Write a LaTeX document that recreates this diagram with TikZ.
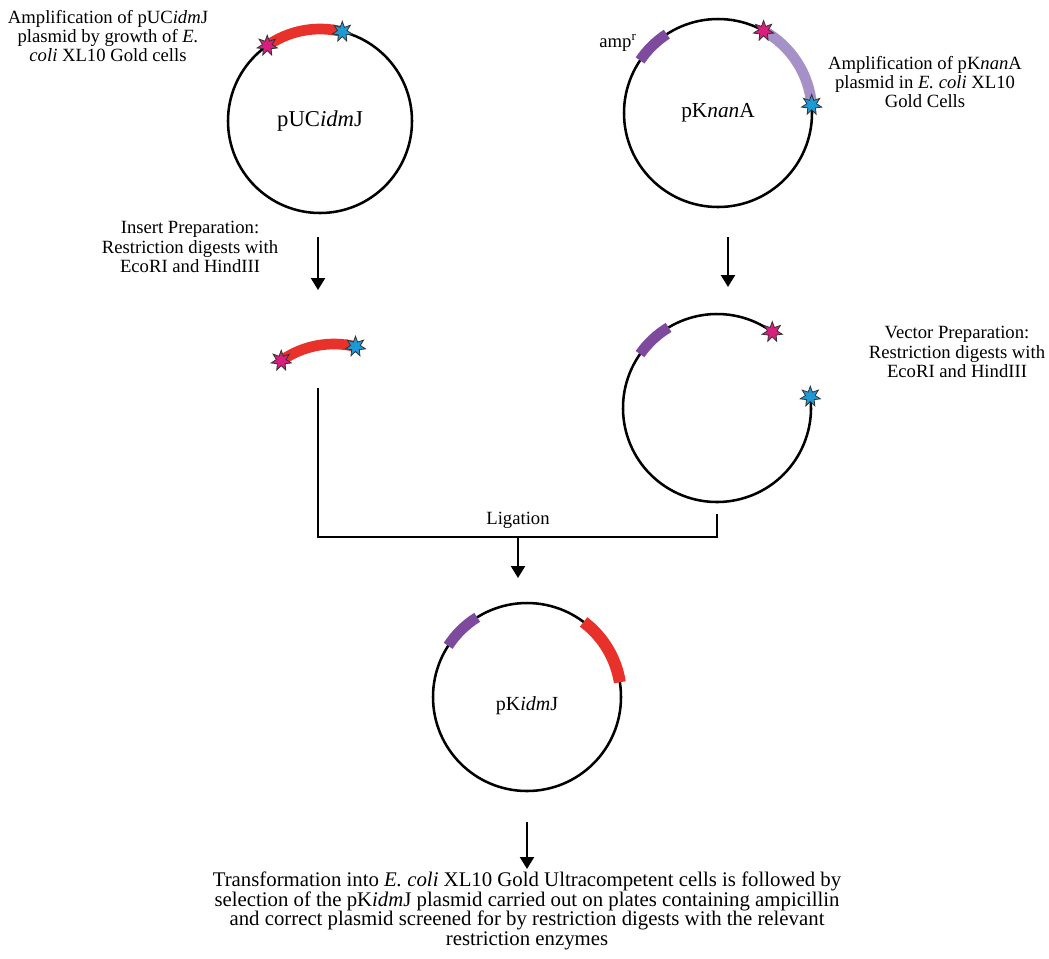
\documentclass[tikz,border=0pt]{standalone}
\usepackage{fontspec}
\setmainfont{Liberation Serif}
\usetikzlibrary{shapes.geometric,arrows.meta,calc}
\definecolor{insred}{HTML}{E8312B}
\definecolor{ampvio}{HTML}{7E4A9E}
\definecolor{nanvio}{HTML}{A590C8}
\definecolor{starpink}{HTML}{D81F7E}
\definecolor{starblue}{HTML}{1C9AD6}
\tikzset{
  plasmid/.style={circle, draw, line width=1.9pt, inner sep=0pt, outer sep=0pt},
  hollow/.style={circle, inner sep=0pt, outer sep=0pt},
  txt/.style={align=center, font=\fontsize{14}{14.5}\selectfont, inner sep=0pt},
  bigtxt/.style={align=center, font=\fontsize{15.6}{14.7}\selectfont, inner sep=0pt},
  flow/.style={line width=1.7pt, -{Triangle[width=10.5pt,length=9pt]}},
  bracket/.style={line width=1.7pt},
  band/.style={line width=8pt},
  site/.style={star, star points=7, star point ratio=2.1, minimum size=15.5pt, inner sep=0pt, draw=black!80, line width=0.6pt},
  pinksite/.style={site, fill=starpink},
  bluesite/.style={site, fill=starblue},
}
\begin{document}
\begin{tikzpicture}[x=0.75pt,y=0.75pt]
\useasboundingbox (0,0) rectangle (1049,-958);

% plasmid circles
\node[plasmid, minimum size=138pt, font=\fontsize{17}{20}\selectfont] (p1) at (320,-121) {pUC\textit{idm}J};
\node[plasmid, minimum size=141pt, font=\fontsize{16}{19}\selectfont] (p2) at (718,-113) {pK\textit{nan}A};
\node[hollow, minimum size=141pt] (p3) at (717,-408) {};
\node[plasmid, minimum size=141pt] (p4) at (527,-697) {};
\node[font=\fontsize{15}{18}\selectfont] (p4lab) at (527,-706) {pK\textit{idm}J};

% open vector
\draw[line width=1.9pt] (p3.54) arc[start angle=54, end angle=367, radius=70.5pt];

% bands
\draw[band, insred] (p1.125) arc[start angle=125, end angle=76.5, radius=69pt];
\draw[band, ampvio] (p2.146) arc[start angle=146, end angle=123, radius=70.5pt];
\draw[band, nanvio] (p2.61) arc[start angle=61, end angle=5, radius=70.5pt];
\draw[band, ampvio] (p3.145) arc[start angle=145, end angle=121, radius=70.5pt];
\draw[band, ampvio] (p4.147) arc[start angle=147, end angle=122, radius=70.5pt];
\draw[band, insred, line width=9pt] (p4.53) arc[start angle=53, end angle=9, radius=70.5pt];

% insert fragment
\coordinate (ic) at (334,-436);
\coordinate (ie) at ($(ic)+(125:92)$);
\draw[band, insred] (ie) arc[start angle=125, end angle=76.5, radius=69pt];

% restriction sites
\node[pinksite] (s1e) at (p1.125) {};
\node[bluesite] (s1h) at (p1.76.5) {};
\node[pinksite] (s2e) at (p2.61) {};
\node[bluesite] (s2h) at (p2.5) {};
\node[pinksite] (s3e) at (p3.54) {};
\node[bluesite] (s3h) at (p3.7) {};
\node[pinksite] (sie) at (ie) {};
\node[bluesite] (sih) at ($(ic)+(76.5:92)$) {};

% labels
\node[txt] (t1) at (108,-36) {Amplification of pUC\textit{idm}J\\plasmid by growth of \textit{E.}\\\textit{coli} XL10 Gold cells};
\node[txt] (t2) at (925,-82) {Amplification of pK\textit{nan}A\\plasmid in \textit{E. coli} XL10\\Gold Cells};
\node[txt] (amp) at (618,-43) {amp\textsuperscript{r}};
\node[txt] (t3) at (190,-247) {Insert Preparation:\\Restriction digests with\\EcoRI and HindIII};
\node[txt] (t4) at (957,-352) {Vector Preparation:\\Restriction digests with\\EcoRI and HindIII};
\node[txt] (lig) at (518,-520) {Ligation};
\node[bigtxt] (t5) at (527,-911) {Transformation into \textit{E. coli} XL10 Gold Ultracompetent cells is followed by\\selection of the pK\textit{idm}J plasmid carried out on plates containing ampicillin\\and correct plasmid screened for by restriction digests with the relevant\\restriction enzymes};

% connectors
\coordinate (a1s) at (318,-237);
\coordinate (a1e) at (318,-290);
\coordinate (a2s) at (728,-237);
\coordinate (a2e) at (728,-287);
\coordinate (insd) at (318,-388);
\coordinate (vecd) at (717,-514);
\coordinate (lj) at (518,-537);
\coordinate (lje) at (518,-578);
\coordinate (a4s) at (527,-822);
\coordinate (a4e) at (527,-869);
\draw[flow] (a1s) -- (a1e);
\draw[flow] (a2s) -- (a2e);
\draw[bracket] (insd) |- (lj) -| (vecd);
\draw[flow] (lj) -- (lje);
\draw[flow] (a4s) -- (a4e);
\end{tikzpicture}
\end{document}
